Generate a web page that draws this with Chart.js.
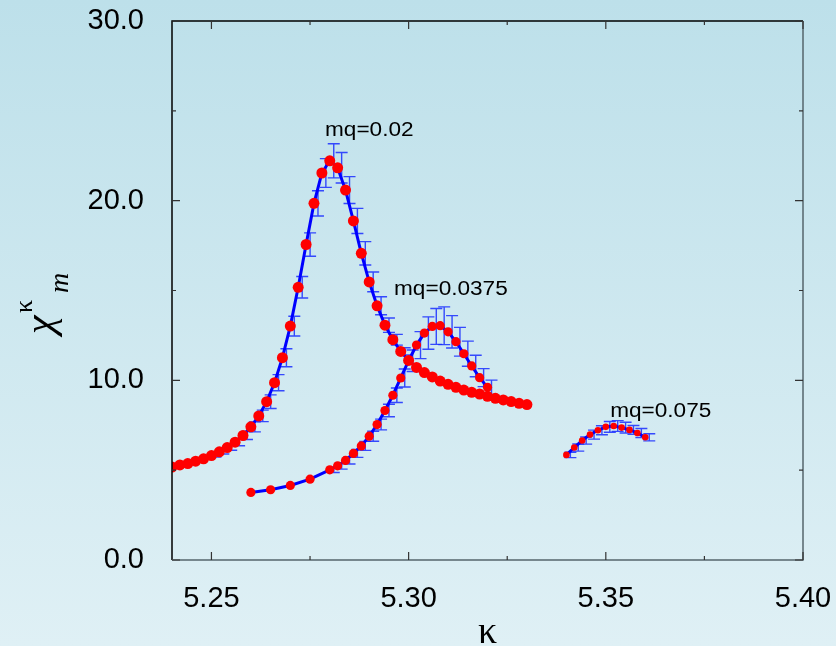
<!DOCTYPE html>
<html>
<head>
<meta charset="utf-8">
<script src="https://cdn.jsdelivr.net/npm/chart.js@4.4.0/dist/chart.umd.min.js"></script>
<style>
  html, body { margin: 0; padding: 0; }
  body { width: 836px; height: 646px; overflow: hidden; background: linear-gradient(to bottom, #bde0ea, #dff0f5); }
</style>
</head>
<body>
<canvas id="chart" width="836" height="646"></canvas>
<script>
// kappa values and susceptibility for each quark mass
const kappa002 = [5.240, 5.242, 5.244, 5.246, 5.248, 5.250, 5.252, 5.254, 5.256, 5.258,
  5.260, 5.262, 5.264, 5.266, 5.268, 5.270, 5.272, 5.274, 5.276, 5.278,
  5.280, 5.282, 5.284, 5.286, 5.288, 5.290, 5.292, 5.294, 5.296, 5.298,
  5.300, 5.302, 5.304, 5.306, 5.308, 5.310, 5.312, 5.314, 5.316, 5.318,
  5.320, 5.322, 5.324, 5.326, 5.328, 5.330];
const chi002 = [5.17, 5.29, 5.37, 5.50, 5.63, 5.81, 6.02, 6.26, 6.56, 6.93,
  7.41, 8.02, 8.81, 9.87, 11.26, 13.02, 15.18, 17.56, 19.85, 21.54,
  22.22, 21.83, 20.59, 18.87, 17.07, 15.48, 14.15, 13.07, 12.26, 11.61,
  11.11, 10.72, 10.43, 10.19, 9.96, 9.78, 9.61, 9.46, 9.33, 9.24,
  9.11, 9.00, 8.91, 8.82, 8.72, 8.65];
const err002 = [0, 0, 0, 0, 0, 0.08, 0.12, 0.15, 0.2, 0.22,
  0.28, 0.32, 0.38, 0.45, 0.5, 0.55, 0.6, 0.65, 0.7, 0.8,
  0.95, 0.85, 0.75, 0.7, 0.65, 0.55, 0.5, 0.4, 0.3, 0.2,
  0, 0, 0, 0, 0, 0, 0, 0, 0, 0,
  0, 0, 0, 0, 0, 0];

const kappa0375 = [5.260, 5.265, 5.270, 5.275, 5.280, 5.282, 5.284, 5.286, 5.288, 5.290,
  5.292, 5.294, 5.296, 5.298, 5.300, 5.302, 5.304, 5.306, 5.308, 5.310,
  5.312, 5.314, 5.316, 5.318, 5.320];
const chi0375 = [3.76, 3.91, 4.15, 4.50, 5.02, 5.24, 5.54, 5.93, 6.35, 6.89,
  7.54, 8.32, 9.17, 10.13, 11.09, 11.96, 12.63, 13.00, 13.04, 12.70,
  12.15, 11.48, 10.80, 10.15, 9.61];
const err0375 = [0, 0, 0, 0, 0.15, 0.18, 0.2, 0.22, 0.25, 0.28,
  0.3, 0.35, 0.4, 0.5, 0.6, 0.75, 0.9, 1.0, 1.05, 0.9,
  0.8, 0.7, 0.6, 0.5, 0.4];

const kappa075 = [5.340, 5.342, 5.344, 5.346, 5.348, 5.350, 5.352, 5.354, 5.356, 5.358, 5.360];
const chi075 = [5.85, 6.26, 6.65, 6.98, 7.22, 7.41, 7.46, 7.37, 7.24, 7.07, 6.83];
const err075 = [0.15, 0.2, 0.2, 0.25, 0.25, 0.3, 0.3, 0.3, 0.25, 0.25, 0.2];

const xTicks = [5.25, 5.30, 5.35, 5.40];
const xMinorTicks = [5.275, 5.325, 5.375];
const yTicks = [0, 10, 20, 30];
const yMinorTicks = [5, 15, 25];

const labels = [
  { text: 'mq=0.02', x: 5.2788, y: 23.6 },
  { text: 'mq=0.0375', x: 5.2963, y: 14.76 },
  { text: 'mq=0.075', x: 5.3511, y: 7.97 }
];

const toPoints = (xs, ys) => xs.map((x, i) => ({ x: x, y: ys[i] }));

function series(label, xs, ys, errs, radius) {
  return {
    label: label,
    data: toPoints(xs, ys),
    errors: errs,
    showLine: true,
    borderColor: '#0000ff',
    borderWidth: 3,
    pointBackgroundColor: '#ff0000',
    pointBorderWidth: 0,
    pointRadius: radius,
    tension: 0
  };
}

// error bars, drawn under the markers
const errorBars = {
  id: 'errorBars',
  beforeDatasetsDraw(chart) {
    const ctx = chart.ctx;
    const xs = chart.scales.x, ys = chart.scales.y;
    ctx.save();
    ctx.strokeStyle = 'rgba(25,45,255,0.85)';
    ctx.lineWidth = 1.4;
    chart.data.datasets.forEach(ds => {
      ds.data.forEach((p, i) => {
        const e = ds.errors[i];
        if (!e) return;
        const px = xs.getPixelForValue(p.x) + 4;
        const top = ys.getPixelForValue(p.y + e);
        const bot = ys.getPixelForValue(p.y - e);
        ctx.beginPath();
        ctx.moveTo(px, top); ctx.lineTo(px, bot);
        ctx.moveTo(px - 6, top); ctx.lineTo(px + 6, top);
        ctx.moveTo(px - 6, bot); ctx.lineTo(px + 6, bot);
        ctx.stroke();
      });
    });
    ctx.restore();
  }
};

// frame with inward ticks, labels and axis titles
const frame = {
  id: 'frame',
  afterDraw(chart) {
    const ctx = chart.ctx;
    const a = chart.chartArea;
    const xs = chart.scales.x, ys = chart.scales.y;
    ctx.save();
    ctx.lineWidth = 1.5;
    ctx.strokeStyle = '#000';
    ctx.beginPath();
    ctx.moveTo(a.left, a.bottom); ctx.lineTo(a.left, a.top); ctx.lineTo(a.right, a.top);
    ctx.stroke();
    ctx.strokeStyle = '#56666c';
    ctx.beginPath();
    ctx.moveTo(a.right, a.top); ctx.lineTo(a.right, a.bottom); ctx.lineTo(a.left, a.bottom);
    ctx.stroke();

    ctx.strokeStyle = '#333';
    ctx.lineWidth = 1.2;
    ctx.beginPath();
    const tickX = (v, len) => {
      const px = xs.getPixelForValue(v);
      ctx.moveTo(px, a.bottom); ctx.lineTo(px, a.bottom - len);
      ctx.moveTo(px, a.top); ctx.lineTo(px, a.top + len);
    };
    const tickY = (v, len) => {
      const py = ys.getPixelForValue(v);
      ctx.moveTo(a.left, py); ctx.lineTo(a.left + len, py);
      ctx.moveTo(a.right, py); ctx.lineTo(a.right - len, py);
    };
    xTicks.forEach(v => tickX(v, 8));
    xMinorTicks.forEach(v => tickX(v, 4));
    yTicks.forEach(v => tickY(v, 8));
    yMinorTicks.forEach(v => tickY(v, 4));
    ctx.stroke();

    // curve labels
    ctx.fillStyle = '#000';
    ctx.font = '20px "Liberation Sans", Arial, sans-serif';
    ctx.textBaseline = 'alphabetic';
    labels.forEach(l => {
      ctx.save();
      ctx.translate(xs.getPixelForValue(l.x), ys.getPixelForValue(l.y));
      ctx.scale(1.13, 1);
      ctx.fillText(l.text, 0, 0);
      ctx.restore();
    });

    // x title
    ctx.font = '38px "Liberation Serif", "Times New Roman", serif';
    ctx.textAlign = 'center';
    ctx.fillText('κ', (a.left + a.right) / 2, 643);

    // y title: chi with superscript kappa and subscript m
    ctx.save();
    ctx.translate(53, 334);
    ctx.rotate(-Math.PI / 2);
    ctx.textAlign = 'left';
    ctx.font = 'italic 42px "Liberation Serif", "Times New Roman", serif';
    ctx.fillText('χ', 0, 0);
    ctx.font = '26px "Liberation Serif", "Times New Roman", serif';
    ctx.fillText('κ', 21, -21);
    ctx.font = 'italic 28px "Liberation Serif", "Times New Roman", serif';
    ctx.fillText('m', 41, 15);
    ctx.restore();
    ctx.restore();
  }
};

new Chart(document.getElementById('chart').getContext('2d'), {
  type: 'scatter',
  data: {
    datasets: [
      series('mq=0.02', kappa002, chi002, err002, 5.5),
      series('mq=0.0375', kappa0375, chi0375, err0375, 4.6),
      series('mq=0.075', kappa075, chi075, err075, 3.3)
    ]
  },
  options: {
    responsive: false,
    animation: false,
    layout: { padding: { top: 21, right: 33, left: 0, bottom: 0 } },
    plugins: { legend: { display: false }, tooltip: { enabled: false } },
    scales: {
      x: {
        type: 'linear',
        min: 5.24,
        max: 5.40,
        grid: { display: false },
        border: { display: false },
        afterBuildTicks: s => { s.ticks = xTicks.map(v => ({ value: v })); },
        afterFit: s => { s.height = 86; s.paddingLeft = 0; s.paddingRight = 0; },
        ticks: {
          padding: 14,
          color: '#000',
          font: { family: '"Liberation Sans", Arial, sans-serif', size: 29 },
          callback: v => v.toFixed(2)
        }
      },
      y: {
        type: 'linear',
        min: 0,
        max: 30,
        grid: { display: false },
        border: { display: false },
        afterBuildTicks: s => { s.ticks = yTicks.map(v => ({ value: v })); },
        afterFit: s => { s.width = 172; s.paddingTop = 0; s.paddingBottom = 0; },
        ticks: {
          padding: 20,
          color: '#000',
          font: { family: '"Liberation Sans", Arial, sans-serif', size: 29 },
          callback: v => v.toFixed(1)
        }
      }
    }
  },
  plugins: [errorBars, frame]
});
</script>
</body>
</html>
